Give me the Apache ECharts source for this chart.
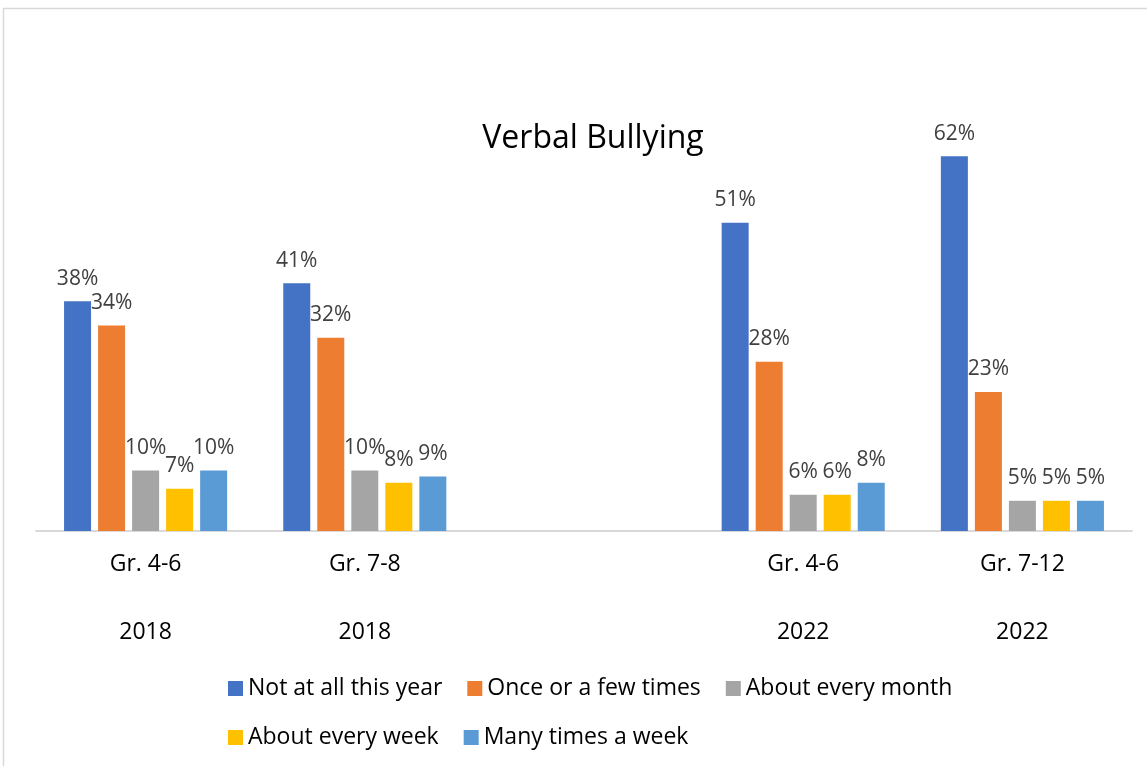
<!DOCTYPE html>
<html>
<head>
<meta charset="utf-8">
<script src="https://cdn.jsdelivr.net/npm/echarts@6/dist/echarts.min.js"></script>
<style>
  html, body { margin: 0; padding: 0; background: #fff; }
  #chart { width: 1147px; height: 766px; }
</style>
</head>
<body>
<div id="chart"></div>
<script>
var categories = ["Gr. 4-6\n\n2018", "Gr. 7-8\n\n2018", "", "Gr. 4-6\n\n2022", "Gr. 7-12\n\n2022"];
var seriesNames = ["Not at all this year", "Once or a few times", "About every month", "About every week", "Many times a week"];
var notAtAll = [38, 41, null, 51, 62];
var onceOrFew = [34, 32, null, 28, 23];
var everyMonth = [10, 10, null, 6, 5];
var everyWeek = [7, 8, null, 6, 5];
var manyTimes = [10, 9, null, 8, 5];
var colors = ["#4472C4", "#ED7D31", "#A5A5A5", "#FFC000", "#5B9BD5"];

var font = '"Open Sans", sans-serif';
var chart = echarts.init(document.getElementById("chart"));

var allData = [notAtAll, onceOrFew, everyMonth, everyWeek, manyTimes];
var series = allData.map(function (d, i) {
	return {
		name: seriesNames[i],
		type: "bar",
		data: d,
		barWidth: 27,
		barGap: "26%",
		itemStyle: { color: colors[i] },
		label: {
			show: true,
			position: "top",
			distance: 12,
			formatter: "{c}%",
			color: "#404040",
			fontSize: 21,
			fontFamily: font
		}
	};
});

var legendText = { color: "#000", fontSize: 23, fontFamily: font };

chart.setOption({
	animation: false,
	color: colors,
	title: {
		text: "Verbal Bullying",
		left: 588,
		textAlign: "center",
		top: 118,
		textStyle: { color: "#000", fontSize: 32, fontWeight: "normal", fontFamily: font }
	},
	graphic: [{
		type: "rect",
		shape: { x: 3.5, y: 8.5, width: 1300, height: 900 },
		style: { fill: null, stroke: "#d9d9d9", lineWidth: 1.5 },
		silent: true
	}],
	legend: [
		{
			data: seriesNames.slice(0, 3),
			left: 223,
			top: 672,
			itemWidth: 15,
			itemHeight: 15,
			itemGap: 25,
			icon: "rect",
			textStyle: legendText
		},
		{
			data: seriesNames.slice(3),
			left: 223,
			top: 721,
			itemWidth: 15,
			itemHeight: 15,
			itemGap: 25,
			icon: "rect",
			textStyle: legendText
		}
	],
	grid: { left: 36, right: 15, top: 108, bottom: 235 },
	xAxis: {
		type: "category",
		data: categories,
		axisLine: { lineStyle: { color: "#d9d9d9", width: 2 } },
		axisTick: { show: false },
		axisLabel: {
			color: "#000",
			fontSize: 23,
			fontFamily: font,
			lineHeight: 34,
			margin: 16,
			interval: 0
		}
	},
	yAxis: {
		type: "value",
		min: 0,
		max: 70,
		show: false,
		splitLine: { show: false }
	},
	series: series
});
</script>
</body>
</html>
